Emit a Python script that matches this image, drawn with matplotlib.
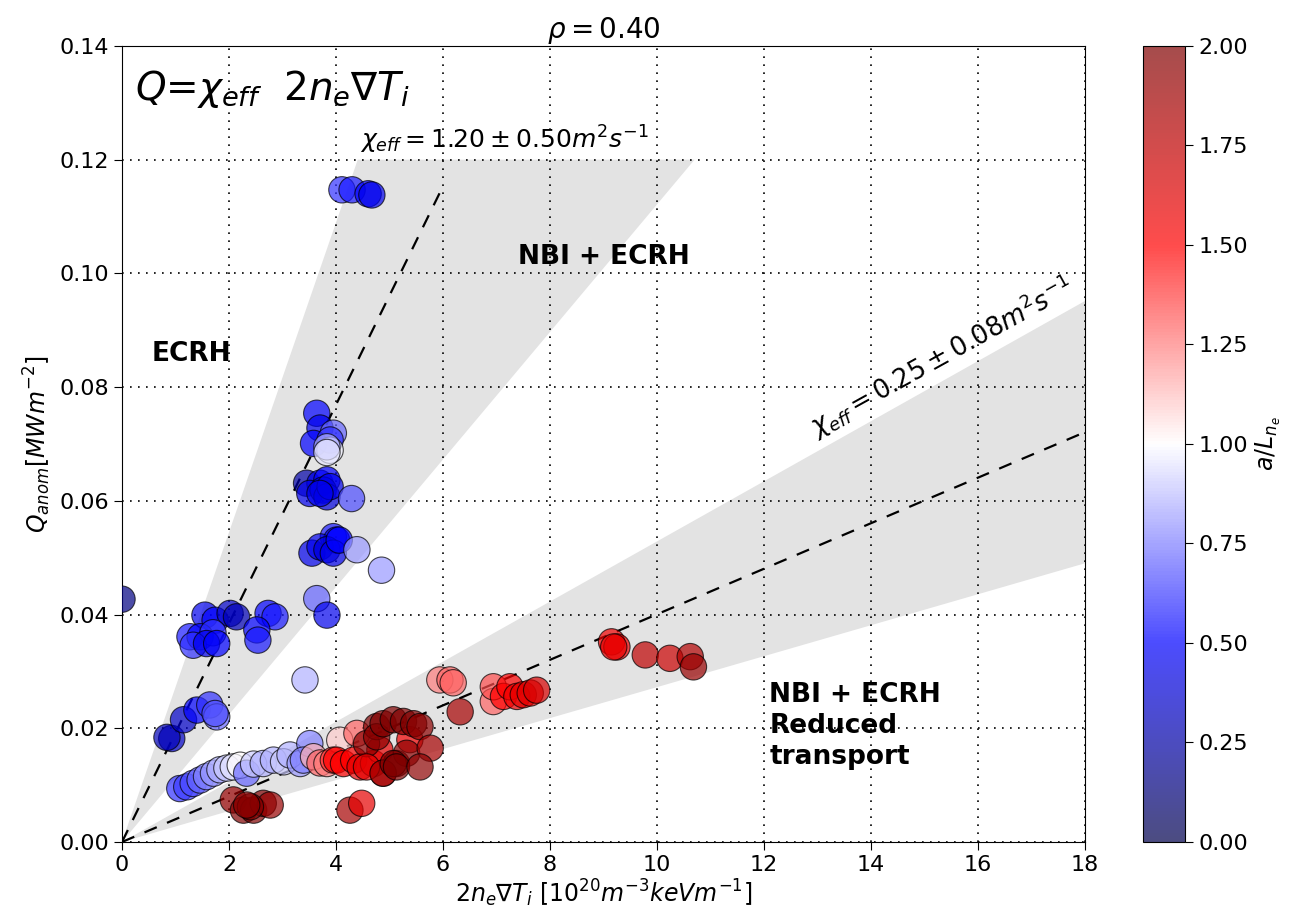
import numpy as np
import matplotlib
matplotlib.use("Agg")
import matplotlib.pyplot as plt
from matplotlib.colors import Normalize

# gradient drive 2 n_e grad T_i  [1e20 m^-3 keV m^-1]
grad = [
    4.11, 4.30, 4.60, 4.67,
    3.64, 3.70, 3.95, 3.58, 3.89, 3.89, 3.83, 3.83,
    3.45, 3.70, 3.83, 3.51, 3.76, 3.83, 3.89, 4.29, 3.70,
    3.95, 4.01, 3.55, 3.70, 3.83, 3.95, 4.06, 4.39, 4.85, 3.64, 3.83,
    0.00,
    1.55, 1.74, 2.02, 2.14, 2.73, 2.86, 2.52, 1.27, 1.46, 1.70,
    1.33, 1.58, 1.77, 2.54, 3.42,
    0.93, 0.84, 1.15, 1.40, 1.64, 1.77, 1.74,
    1.08, 1.21, 1.33, 1.46, 1.58, 1.71, 1.83, 1.96, 2.08, 2.21, 2.33, 2.46,
    2.64, 2.83, 3.02, 3.14, 3.33, 3.51, 3.39,
    3.58, 3.70, 3.83, 4.07, 4.39, 3.95, 4.01, 4.14, 4.33, 4.45, 4.70, 4.82, 5.38,
    4.57, 4.76, 4.76, 4.88, 5.07, 5.26, 5.45, 5.57, 4.88, 5.13, 5.32, 4.57,
    5.76, 4.88, 5.07, 5.13, 5.57,
    2.08, 2.27, 2.46, 2.64, 2.77, 2.40, 2.33,
    4.26, 4.48,
    5.94, 6.13, 6.19, 6.32, 6.94, 6.94, 7.13, 7.25, 7.38, 7.50, 7.63, 7.75,
    9.15, 9.25, 9.19, 9.78, 10.24, 10.62, 10.68,
]
# anomalous heat flux Q_anom [MW m^-2]
q_anom = [
    0.1147, 0.1147, 0.1140, 0.1138,
    0.0754, 0.0728, 0.0719, 0.0701, 0.0707, 0.0689, 0.0695, 0.0685,
    0.0631, 0.0631, 0.0637, 0.0613, 0.0619, 0.0607, 0.0625, 0.0604, 0.0613,
    0.0537, 0.0531, 0.0508, 0.0519, 0.0514, 0.0508, 0.0531, 0.0514, 0.0478, 0.0428, 0.0399,
    0.0427,
    0.0399, 0.0390, 0.0402, 0.0396, 0.0402, 0.0396, 0.0373, 0.0361, 0.0361, 0.0368,
    0.0346, 0.0349, 0.0349, 0.0355, 0.0285,
    0.0182, 0.0184, 0.0215, 0.0232, 0.0241, 0.0220, 0.0226,
    0.0094, 0.0097, 0.0103, 0.0109, 0.0115, 0.0121, 0.0127, 0.0130, 0.0132, 0.0135, 0.0121, 0.0137,
    0.0138, 0.0144, 0.0141, 0.0153, 0.0138, 0.0173, 0.0144,
    0.0150, 0.0139, 0.0138, 0.0179, 0.0191, 0.0144, 0.0144, 0.0138, 0.0144, 0.0132, 0.0138, 0.0162, 0.0180,
    0.0173, 0.0203, 0.0185, 0.0208, 0.0215, 0.0212, 0.0208, 0.0203, 0.0121, 0.0138, 0.0156, 0.0132,
    0.0165, 0.0121, 0.0138, 0.0132, 0.0132,
    0.0074, 0.0056, 0.0056, 0.0068, 0.0065, 0.0062, 0.0065,
    0.0056, 0.0068,
    0.0285, 0.0285, 0.0280, 0.0229, 0.0247, 0.0273, 0.0256, 0.0273, 0.0256, 0.0259, 0.0262, 0.0267,
    0.0352, 0.0343, 0.0343, 0.0329, 0.0323, 0.0326, 0.0308,
]
# normalised density gradient a/L_ne
a_lne = [
    0.60, 0.55, 0.50, 0.45,
    0.50, 0.45, 0.70, 0.50, 0.60, 0.97, 0.85, 0.95,
    0.25, 0.45, 0.50, 0.45, 0.40, 0.40, 0.45, 0.65, 0.45,
    0.55, 0.50, 0.45, 0.45, 0.40, 0.45, 0.50, 0.80, 0.80, 0.70, 0.45,
    0.15,
    0.45, 0.50, 0.35, 0.30, 0.50, 0.55, 0.50, 0.55, 0.50, 0.60,
    0.60, 0.45, 0.50, 0.55, 0.85,
    0.35, 0.30, 0.35, 0.50, 0.60, 0.70, 0.65,
    0.60, 0.62, 0.65, 0.70, 0.75, 0.80, 0.85, 0.90, 0.95, 1.00, 0.70, 0.90,
    0.85, 0.85, 0.90, 0.85, 0.80, 0.75, 0.75,
    1.15, 1.30, 1.25, 1.10, 1.30, 1.40, 1.50, 1.50, 1.50, 1.60, 1.60, 1.60, 1.55,
    1.95, 2.00, 1.95, 2.00, 2.00, 2.00, 2.00, 1.95, 1.85, 2.00, 1.95, 1.60,
    1.85, 1.85, 2.00, 2.00, 1.95,
    1.90, 2.00, 2.00, 2.00, 1.90, 2.00, 1.95,
    1.85, 1.60,
    1.25, 1.30, 1.30, 1.85, 1.30, 1.35, 1.50, 1.50, 1.55, 1.60, 1.60, 1.65,
    1.55, 1.55, 1.60, 1.75, 1.70, 1.80, 1.90,
]

chi_hi, dchi_hi = 1.20, 0.50
chi_lo, dchi_lo = 0.25, 0.08
conv = 0.01602  # 1e20 m^-3 keV -> MJ m^-3

fig = plt.figure(figsize=(12.91, 9.19), dpi=100)
ax = fig.add_axes([0.0945, 0.0838, 0.746, 0.8662])
cax = fig.add_axes([0.8853, 0.0838, 0.0325, 0.8662])

ax.set_xlim(0, 18)
ax.set_ylim(0, 0.14)

# shaded bands
qtop = 0.12
xa = qtop / ((chi_hi + dchi_hi) * conv)
xb = qtop / ((chi_hi - dchi_hi) * conv)
ax.fill([0, xa, xb], [0, qtop, qtop], color='#e3e3e3', lw=0, zorder=0)
ax.fill([0, 18, 18], [0, (chi_lo + dchi_lo) * conv * 18, (chi_lo - dchi_lo) * conv * 18],
        color='#e3e3e3', lw=0, zorder=0)

ax.grid(True, linestyle=(0, (1, 3.8)), color='black', lw=1.2, zorder=1)
ax.set_axisbelow(True)

xl = np.array([0, 6.0])
ax.plot(xl, chi_hi * conv * xl, 'k--', lw=1.6, dashes=(6, 5), zorder=2)
xl2 = np.array([0, 18.0])
ax.plot(xl2, chi_lo * conv * xl2, 'k--', lw=1.6, dashes=(6, 5), zorder=2)

norm = Normalize(0, 2)
sc = ax.scatter(grad, q_anom, c=a_lne, cmap='seismic', norm=norm, s=360,
                alpha=0.7, edgecolors='black', linewidths=0.8, zorder=3)

cb = fig.colorbar(sc, cax=cax)
cb.set_ticks(np.arange(0, 2.01, 0.25))
cb.ax.tick_params(labelsize=16, length=6)
cb.set_label(r'$a/L_{n_e}$', fontsize=17)

ax.tick_params(labelsize=16, length=6)
ax.set_xticks(np.arange(0, 19, 2))
ax.set_yticks(np.arange(0, 0.141, 0.02))
ax.set_xlabel(r'$2n_e\nabla T_i\ [10^{20}m^{-3}keVm^{-1}]$', fontsize=17, labelpad=2)
ax.set_ylabel(r'$Q_{anom} [MWm^{-2}]$', fontsize=17)
ax.set_title(r'$\rho=0.40$', fontsize=20)

ax.text(0.25, 0.1325, r'$Q$=$\chi_{eff}\ \ 2n_e\nabla T_i$', fontsize=28, va='center')
ax.text(4.45, 0.1235, r'$\chi_{eff}=1.20\pm0.50m^2s^{-1}$', fontsize=18, va='center')
ax.text(13.05, 0.0700, r'$\chi_{eff}=0.25\pm0.08m^2s^{-1}$', fontsize=18.5,
        rotation=29, rotation_mode='anchor', va='bottom')
ax.text(0.55, 0.0858, 'ECRH', fontsize=19, fontweight='bold', va='center')
ax.text(7.4, 0.1028, 'NBI + ECRH', fontsize=19, fontweight='bold', va='center')
ax.text(12.1, 0.0282, 'NBI + ECRH\nReduced\ntransport', fontsize=19,
        fontweight='bold', va='top', linespacing=1.25)

fig.savefig('out.png', dpi=100)
